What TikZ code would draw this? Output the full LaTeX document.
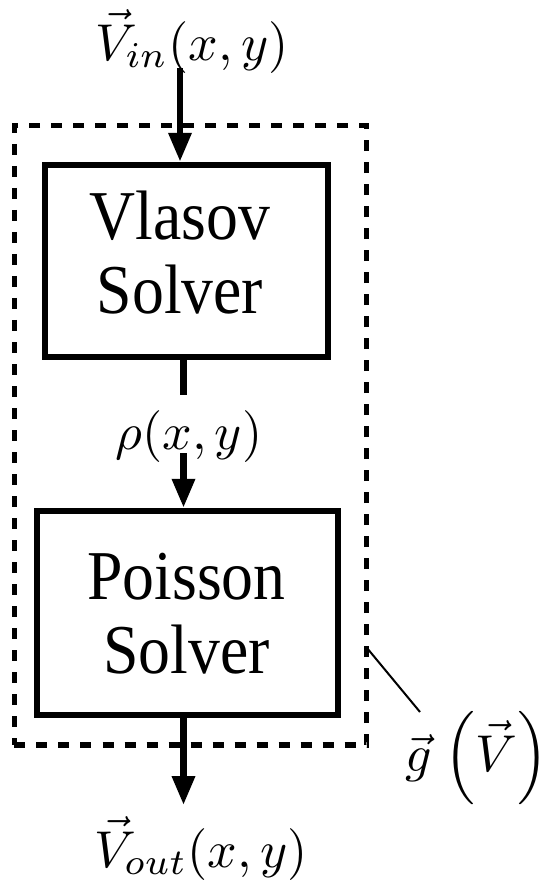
\documentclass[tikz,border=0pt]{standalone}
\usepackage{fontspec}
\newfontfamily\boxfont[FakeStretch=0.91]{Liberation Serif}
\usetikzlibrary{arrows.meta}

% math set at 10pt and enlarged as a whole
\newcommand{\bigmath}[1]{\scalebox{5.2}{$#1$}}

\tikzset{
  solverbox/.style={draw, line width=6.5bp, inner sep=0pt},
  boxtext/.style={inner sep=0pt, align=center,
    font=\boxfont\fontsize{70bp}{74bp}\selectfont},
  mathlbl/.style={inner sep=0pt},
  loopbox/.style={draw, line width=5.5bp, dash pattern=on 11bp off 11bp,
    inner sep=0pt},
  flow/.style={line width=6.5bp, -{Triangle[length=29bp,width=22bp]}},
  stub/.style={line width=6.5bp},
  pointer/.style={line width=2bp},
}

\begin{document}
\begin{tikzpicture}[x=1bp,y=-1bp]
\useasboundingbox (0,0) rectangle (547,886);

% feedback loop enclosing both solvers
\node[loopbox, minimum width=352bp, minimum height=619.5bp] (loop) at (190.5,435.25) {};

% solver boxes
\node[solverbox, minimum width=283bp, minimum height=192bp] (vlasov) at (186.5,261) {};
\node[boxtext] (vlasovtxt) at (180,253) {Vlasov\\Solver};

\node[solverbox, minimum width=301bp, minimum height=204bp] (poisson) at (187.5,613) {};
\node[boxtext] (poissontxt) at (186.5,613.5) {Poisson\\Solver};

% labels
\node[mathlbl, anchor=base] (vin) at (192,60) {\bigmath{\vec{V}_{in}(x,y)}};
\node[mathlbl, anchor=base] (rho) at (189,449) {\bigmath{\rho(x,y)}};
\node[mathlbl, anchor=base] (vout) at (201,867) {\bigmath{\vec{V}_{out}(x,y)}};
\node[mathlbl, anchor=base west] (gmap) at (405,771) {\bigmath{\vec{g}\mkern1.5mu\left(\vec{V}\right)}};

% connector end points
\coordinate (inpt) at (180,68);
\coordinate (midtop) at (183.5,395);
\coordinate (midbot) at (183.5,453);
\coordinate (outpt) at (183.5,805);
\coordinate (loopside) at (367,648);
\coordinate (gtip) at (420,712);

% connectors
\draw[flow] (inpt) -- (inpt |- vlasov.north);
\draw[stub] (vlasov.south -| midtop) -- (midtop);
\draw[flow] (midbot) -- (midbot |- poisson.north);
\draw[flow] (poisson.south -| outpt) -- (outpt);
\draw[pointer] (loopside) -- (gtip);
\end{tikzpicture}
\end{document}
